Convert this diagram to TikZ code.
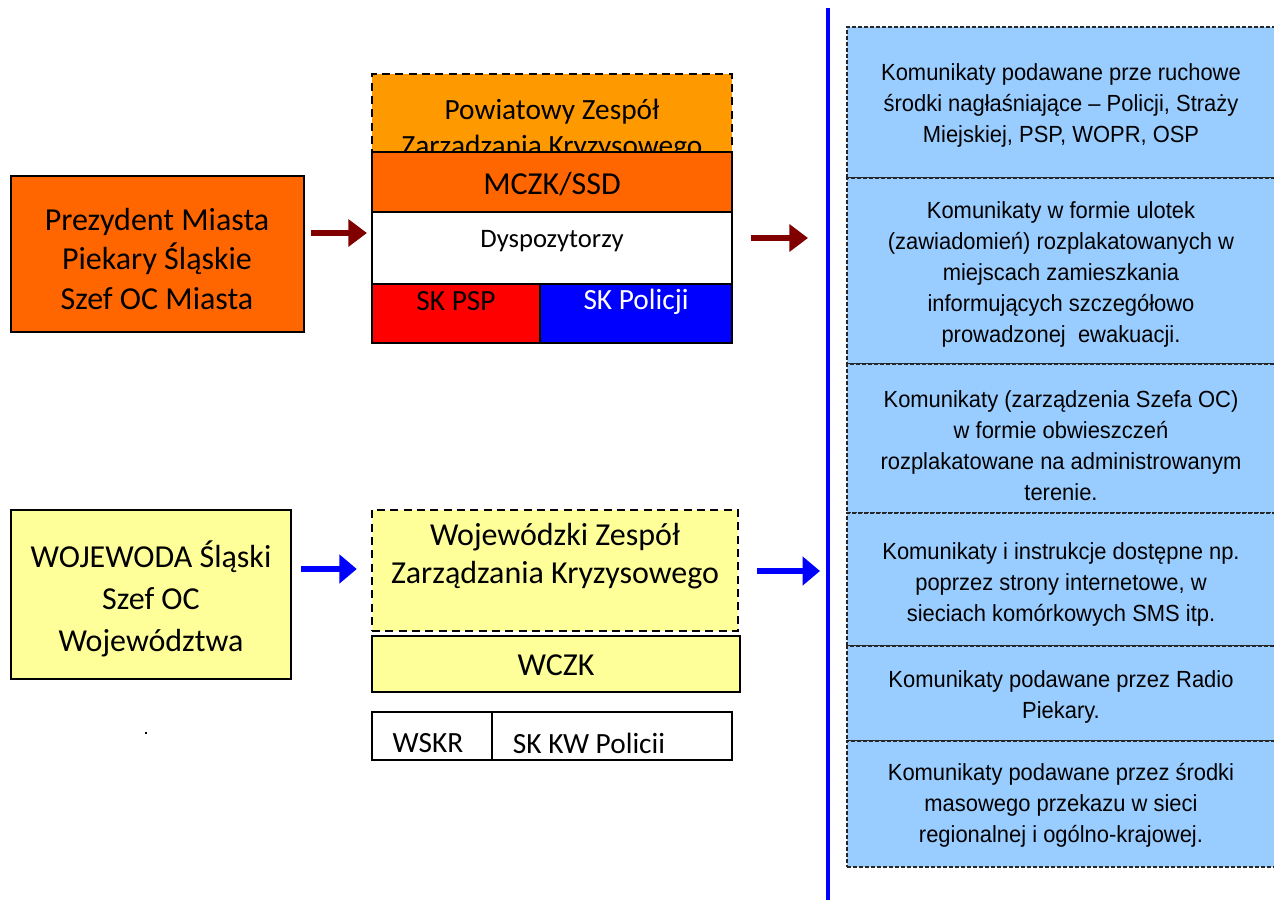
\documentclass[tikz,border=0pt]{standalone}
\usepackage{fontspec}
\setmainfont{Carlito}
\newfontfamily\arialf{Liberation Sans}
\usetikzlibrary{arrows.meta,fit}
\definecolor{orgA}{HTML}{FF9900}
\definecolor{orgB}{HTML}{FF6600}
\definecolor{yel}{HTML}{FFFF99}
\definecolor{lblue}{HTML}{99CCFF}
\definecolor{dred}{HTML}{800000}
\definecolor{vblue}{HTML}{0000FF}
\begin{document}
\begin{tikzpicture}[x=0.75pt,y=-0.75pt,
  box/.style={draw=black, line width=1.6pt, inner sep=0pt},
  dbox/.style={draw=black, line width=1.8pt, dash pattern=on 6pt off 4pt, inner sep=0pt},
  cbox/.style={draw=black!85, line width=0.8pt, dash pattern=on 3pt off 1.5pt, fill=lblue, inner sep=0pt},
  big/.style={font=\fontsize{24pt}{29.5pt}\selectfont, align=center, inner sep=0pt},
  mid/.style={font=\fontsize{22pt}{27pt}\selectfont, align=center, inner sep=0pt},
  ctext/.style={font=\arialf\fontsize{17.5pt}{23.25pt}\selectfont, align=center, inner sep=0pt, xscale=0.94, transform shape},
  redarr/.style={draw=dred, line width=5pt, -{Triangle[length=14pt,width=20pt]}},
  bluearr/.style={draw=vblue, line width=5pt, -{Triangle[length=13pt,width=21pt]}}
]
\useasboundingbox (0,0) rectangle (1274,903);

% upper left
\node[box, fill=orgB, fit={(11,176) (304,332)}] (prez) {};
\node[big] (prezt) at (157,259) {Prezydent Miasta\\Piekary Śląskie\\Szef OC Miasta};

\node[dbox, fill=orgA, fit={(372,74) (732,172)}] (pzzk) {};
\node[mid] (pzzkt) at (552,130) {Powiatowy Zespół\\Zarządzania Kryzysowego};
\node[box, fill=orgB, fit={(372,152) (732,212)}] (mczk) {};
\node[big] (mczkt) at (552,184) {MCZK/SSD};
\node[box, fill=white, fit={(372,212) (732,284)}] (dysp) {};
\node[font=\fontsize{20pt}{24pt}\selectfont, inner sep=0pt] (dyspt) at (552,241) {Dyspozytorzy};
\node[box, fill=red, fit={(372,284) (540,343)}] (skpsp) {};
\node[mid] (skpspt) at (456,301) {SK PSP};
\node[box, fill=vblue, fit={(540,284) (732,343)}] (skpol) {};
\node[mid, text=white] (skpolt) at (636,302) {SK Policji};

% lower left
\node[box, fill=yel, fit={(11,510) (291,679)}] (woj) {};
\node[big, font=\fontsize{24pt}{31.5pt}\selectfont] (wojt) at (151,599) {WOJEWODA Śląski\\Szef OC\\Województwa};
\node[dbox, fill=yel, fit={(372,510) (738,631)}] (wzzk) {};
\node[big, font=\fontsize{24pt}{28.5pt}\selectfont] (wzzkt) at (555,556) {Wojewódzki Zespół\\Zarządzania Kryzysowego};
\node[box, fill=yel, fit={(372,636) (740,692)}] (wczk) {};
\node[big] (wczkt) at (556,665) {WCZK};
\node[box, line width=1.2pt, fill=white, fit={(372,712) (492,760)}] (wskr) {};
\node[mid] (wskrt) at (428,743) {WSKR};
\node[box, line width=1.2pt, fill=white, fit={(492,712) (732,760)}] (skkw) {};
\node[mid] (skkwt) at (589,743) {SK KW Policii};
\node[fill=black, inner sep=0pt, minimum size=2pt] (dot) at (146,733) {};

% vertical line
\coordinate (vtop) at (828,8);
\coordinate (vbot) at (828,900);
\draw[vblue, line width=3pt] (vtop) -- (vbot);

% right column
\node[cbox, fit={(847,27) (1280,178)}] (r1) {};
\node[cbox, fit={(847,178) (1280,364)}] (r2) {};
\node[cbox, fit={(847,364) (1280,513)}] (r3) {};
\node[cbox, fit={(847,513) (1280,646)}] (r4) {};
\node[cbox, fit={(847,646) (1280,741)}] (r5) {};
\node[cbox, fit={(847,741) (1280,867)}] (r6) {};
\node[ctext] (r1t) at (1061,105) {Komunikaty podawane prze ruchowe\\środki nagłaśniające – Policji, Straży\\Miejskiej, PSP, WOPR, OSP};
\node[ctext] (r2t) at (1061,274.5) {Komunikaty w formie ulotek\\(zawiadomień) rozplakatowanych w\\miejscach zamieszkania\\informujących szczegółowo\\prowadzonej\ \ ewakuacji.};
\node[ctext] (r3t) at (1061,445.5) {Komunikaty (zarządzenia Szefa OC)\\w formie obwieszczeń\\rozplakatowane na administrowanym\\terenie.};
\node[ctext] (r4t) at (1061,584.5) {Komunikaty i instrukcje dostępne np.\\poprzez strony internetowe, w\\sieciach komórkowych SMS itp.};
\node[ctext] (r5t) at (1061,696.5) {Komunikaty podawane przez Radio\\Piekary.};
\node[ctext] (r6t) at (1061,805.5) {Komunikaty podawane przez środki\\masowego przekazu w sieci\\regionalnej i ogólno-krajowej.};

% arrows
\draw[redarr, shorten <=4.5pt, shorten >=3pt] (prez.east |- 0,233) -- (mczk.west |- 0,233);
\draw[redarr, shorten <=13.5pt, shorten >=15pt] (mczk.east |- 0,238) -- (vtop |- 0,238);
\draw[bluearr, shorten <=6.75pt, shorten >=10.5pt] (woj.east |- 0,569) -- (wzzk.west |- 0,569);
\draw[bluearr, shorten <=13.5pt, shorten >=6pt] (wzzk.east |- 0,571) -- (vtop |- 0,571);
\end{tikzpicture}
\end{document}
